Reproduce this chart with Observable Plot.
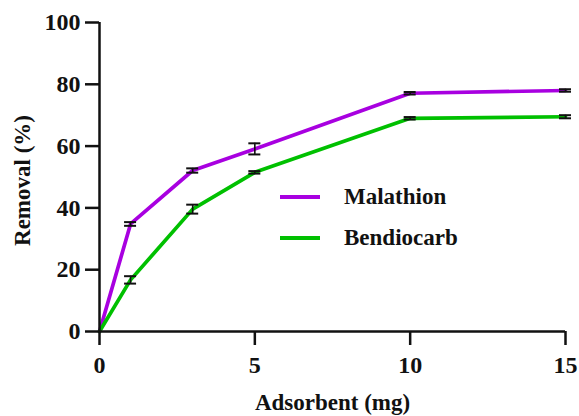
<!DOCTYPE html>
<html>
<head>
<meta charset="utf-8">
<script src="https://cdn.jsdelivr.net/npm/d3@7"></script>
<script src="https://cdn.jsdelivr.net/npm/@observablehq/plot@0.6"></script>
<style>
  body { margin: 0; background: #fff; }
  #wrap { position: relative; width: 579px; height: 416px; font-family: 'Liberation Serif', serif; font-weight: bold; }
  #chart svg, #chart svg text { font-family: 'Liberation Serif', serif !important; font-weight: bold; }
  #legend { position: absolute; left: 280px; top: 176px; font-family: 'Liberation Serif', serif; }
  .item { display: flex; align-items: center; height: 41px; font-size: 23px; color: #111; }
  .swatch { width: 40px; height: 4px; margin-right: 24px; }
</style>
</head>
<body>
<div id="wrap">
  <div id="chart"></div>
  <div id="legend"></div>
</div>
<script>
const xValues = [0, 1, 3, 5, 10, 15];
const malathion = [0, 34.8, 52.1, 59.1, 77.1, 78.0];
const malathionErr = [0, 0.6, 0.7, 1.8, 0.4, 0.4];
const bendiocarb = [0, 16.7, 39.6, 51.5, 69.0, 69.5];
const bendiocarbErr = [0, 1.2, 1.45, 0.4, 0.4, 0.5];
const seriesNames = ["Malathion", "Bendiocarb"];
const seriesColors = ["#a800e0", "#00c000"];
const xTicks = [0, 5, 10, 15];
const yTicks = [0, 20, 40, 60, 80, 100];
const xTitle = "Adsorbent (mg)";
const yTitle = "Removal (%)";

const data = [];
[malathion, bendiocarb].forEach((vals, si) => {
  const errs = si === 0 ? malathionErr : bendiocarbErr;
  xValues.forEach((x, i) => data.push({series: seriesNames[si], x, y: vals[i], e: errs[i]}));
});
const errData = data.filter(d => d.e > 0);

const chart = Plot.plot({
  width: 579,
  height: 416,
  marginLeft: 99,
  marginRight: 14,
  marginTop: 22,
  marginBottom: 85,
  style: {fontFamily: "Liberation Serif, serif", fontWeight: "bold", color: "#111", background: "#fff"},
  x: {domain: [0, 15]},
  y: {domain: [0, 100]},
  color: {domain: seriesNames, range: seriesColors},
  marks: [
    Plot.line(data, {x: "x", y: "y", z: "series", stroke: "series", strokeWidth: 3.7}),
    Plot.ruleX(errData, {x: "x", y1: d => d.y - d.e, y2: d => d.y + d.e, stroke: "#111", strokeWidth: 1.6}),
    Plot.ruleY(errData, {y: d => d.y - d.e, x1: "x", x2: "x", insetLeft: -6, insetRight: -6, stroke: "#111", strokeWidth: 2}),
    Plot.ruleY(errData, {y: d => d.y + d.e, x1: "x", x2: "x", insetLeft: -6, insetRight: -6, stroke: "#111", strokeWidth: 2}),
    Plot.ruleY([0], {stroke: "#111", strokeWidth: 2.5}),
    Plot.ruleX([0], {stroke: "#111", strokeWidth: 2.5}),
    Plot.axisX({ticks: xTicks, tickSize: 14, tickPadding: 10, fontSize: 24, fontWeight: "bold", fontFamily: "Liberation Serif", label: null, strokeWidth: 2.5}),
    Plot.axisY({ticks: yTicks, tickSize: 14, tickPadding: 5, fontSize: 24, fontWeight: "bold", fontFamily: "Liberation Serif", label: null, strokeWidth: 2.5}),
    Plot.text([xTitle], {frameAnchor: "bottom", textAnchor: "middle", lineAnchor: "middle", dy: 71, fontSize: 23, fontWeight: "bold", fontFamily: "Liberation Serif", fill: "#111"}),
    Plot.text([yTitle], {frameAnchor: "left", textAnchor: "middle", lineAnchor: "middle", dx: -77, dy: 3.5, rotate: -90, fontSize: 23, fontWeight: "bold", fontFamily: "Liberation Serif", fill: "#111"})
  ]
});
document.getElementById("chart").appendChild(chart);

const legend = document.getElementById("legend");
seriesNames.forEach((name, i) => {
  const item = document.createElement("div");
  item.className = "item";
  const sw = document.createElement("span");
  sw.className = "swatch";
  sw.style.background = seriesColors[i];
  const label = document.createElement("span");
  label.textContent = name;
  item.appendChild(sw);
  item.appendChild(label);
  legend.appendChild(item);
});
</script>
</body>
</html>
